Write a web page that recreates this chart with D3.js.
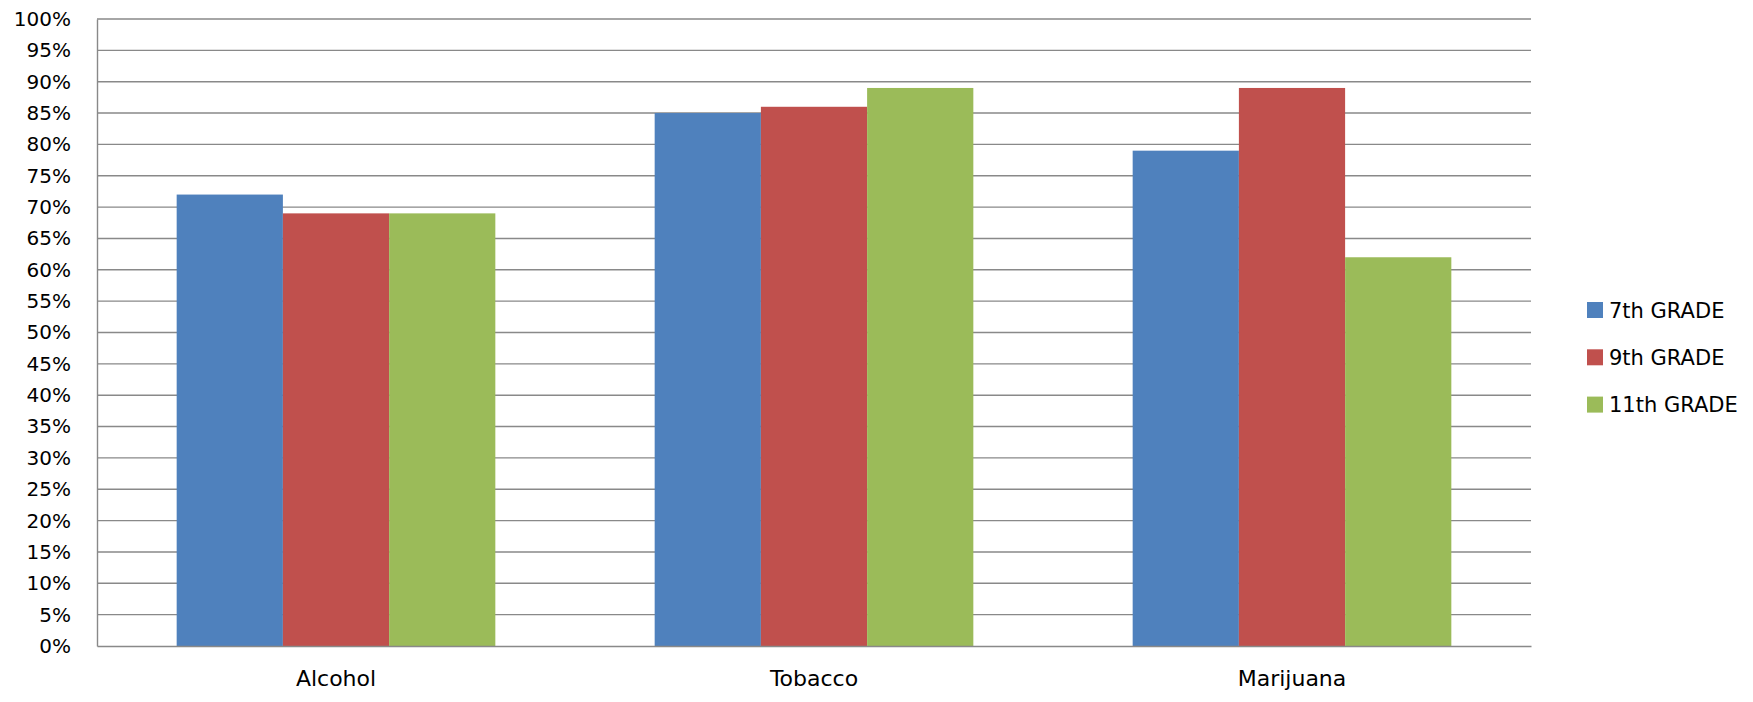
<!DOCTYPE html>
<html><head><meta charset="utf-8">
<script src="https://cdn.jsdelivr.net/npm/d3@7"></script>
<style>body{margin:0;background:#fff}text{font-family:"DejaVu Sans",sans-serif;fill:#000}</style>
</head><body><svg id="c" width="1753" height="702"></svg>
<script>
const categories = ["Alcohol", "Tobacco", "Marijuana"];
const seriesNames = ["7th GRADE", "9th GRADE", "11th GRADE"];
const grade7 = [72, 85, 79];
const grade9 = [69, 86, 89];
const grade11 = [69, 89, 62];
const yTicks = [0,5,10,15,20,25,30,35,40,45,50,55,60,65,70,75,80,85,90,95,100];
const colors = ["#4F81BD", "#C0504D", "#9BBB59"];
const seriesValues = [grade7, grade9, grade11];

const svg = d3.select("#c");
const L = 97, R = 1531, T = 19, B = 646;
const x0 = d3.scaleBand().domain(categories).range([L, R]).padding(0);
const x1 = d3.scaleBand().domain(seriesNames).range([0, x0.bandwidth()]).paddingInner(0).paddingOuter(0.75);
const y = d3.scaleLinear().domain([0, 100]).range([B, T]);

// gridlines
svg.append("g").selectAll("line").data(yTicks.filter(d => d > 0)).join("line")
  .attr("x1", L).attr("x2", R).attr("y1", d => y(d)).attr("y2", d => y(d))
  .attr("stroke", "#898989").attr("stroke-width", 1.4);

// bars
const groups = svg.append("g").selectAll("g").data(categories).join("g")
  .attr("transform", d => `translate(${x0(d)},0)`);
groups.selectAll("rect").data((c, i) => seriesNames.map((s, j) => ({s, v: seriesValues[j][i], j})))
  .join("rect")
  .attr("x", d => x1(d.s)).attr("width", x1.bandwidth())
  .attr("y", d => y(d.v)).attr("height", d => B - y(d.v))
  .attr("fill", d => colors[d.j]);

// y axis
const yAxis = svg.append("g").attr("transform", `translate(${L},0)`)
  .call(d3.axisLeft(y).tickValues(yTicks).tickSize(0).tickPadding(26).tickFormat(d => d + "%"));
yAxis.select(".domain").attr("stroke", "#898989").attr("stroke-width", 1.4);
yAxis.selectAll("text").attr("font-size", 20).attr("font-family", "DejaVu Sans").attr("fill", "#000");

// x axis
const xAxis = svg.append("g").attr("transform", `translate(0,${B})`)
  .call(d3.axisBottom(x0).tickSize(0).tickPadding(24));
xAxis.select(".domain").attr("stroke", "#898989").attr("stroke-width", 1.4);
xAxis.selectAll("text").attr("font-size", 22).attr("font-family", "DejaVu Sans").attr("fill", "#000");

// legend
const leg = svg.append("g");
seriesNames.forEach((s, i) => {
  const cy = 310 + i * 47.3;
  leg.append("rect").attr("x", 1587).attr("y", cy - 8).attr("width", 16).attr("height", 16).attr("fill", colors[i]);
  leg.append("text").attr("x", 1609).attr("y", cy).attr("dy", "0.36em").attr("font-size", 21).text(s);
});
</script></body></html>
